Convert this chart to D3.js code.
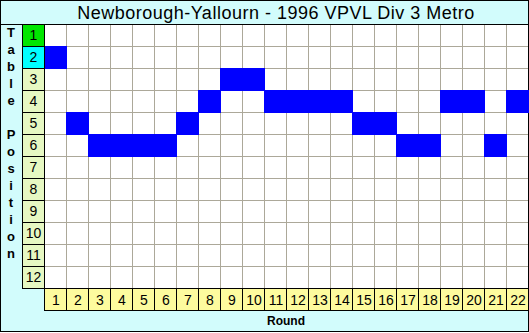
<!DOCTYPE html>
<html>
<head>
<meta charset="utf-8">
<script src="https://cdn.jsdelivr.net/npm/d3@7"></script>
<style>
  body { margin: 0; background: #fff; }
  svg { display: block; }
</style>
</head>
<body>
<svg id="chart"></svg>
<script>
const title = "Newborough-Yallourn - 1996 VPVL Div 3 Metro"
const rounds = ["1","2","3","4","5","6","7","8","9","10","11","12","13","14","15","16","17","18","19","20","21","22"]
const tablePositions = ["1","2","3","4","5","6","7","8","9","10","11","12"]
const positions = [2,5,6,6,6,6,5,4,3,3,4,4,4,4,5,5,6,6,4,4,6,4]
const yTitle = "Table Position"
const xTitle = "Round"

const width = 529
const height = 333

const svg = d3.select("#chart")
    .attr("width", width)
    .attr("height", height)

// background + frame
svg.append("rect")
    .attr("x", 0.5).attr("y", 0.5)
    .attr("width", 528).attr("height", 331)
    .attr("fill", "#d2fcfc")
    .attr("stroke", "#000")

svg.append("text")
    .attr("x", 276).attr("y", 19)
    .attr("text-anchor", "middle")
    .attr("font-family", "Liberation Sans, Arial, sans-serif")
    .attr("font-size", 18)
    .attr("letter-spacing", 0.5)
    .text(title)

svg.append("line")
    .attr("x1", 0).attr("x2", 529)
    .attr("y1", 24.5).attr("y2", 24.5)
    .attr("stroke", "#000")

const x = d3.scaleBand().domain(rounds).range([44, 528])
const y = d3.scaleBand().domain(tablePositions).range([24, 288])

// plot area
svg.append("rect")
    .attr("x", 44).attr("y", 25)
    .attr("width", 484).attr("height", 263)
    .attr("fill", "#fff")

const grid = svg.append("g")
    .attr("stroke", "#aca899")
    .attr("stroke-width", 1)

grid.selectAll("line.v")
    .data(rounds.slice(1))
    .enter()
    .append("line")
    .attr("x1", d => x(d) + 0.5)
    .attr("x2", d => x(d) + 0.5)
    .attr("y1", 25).attr("y2", 288)

grid.selectAll("line.h")
    .data(tablePositions.slice(1))
    .enter()
    .append("line")
    .attr("y1", d => y(d) + 0.5)
    .attr("y2", d => y(d) + 0.5)
    .attr("x1", 44).attr("x2", 528)

// position cells
svg.append("g")
    .selectAll("rect")
    .data(positions)
    .enter()
    .append("rect")
    .attr("x", (d, i) => x(rounds[i]))
    .attr("y", d => y(String(d)))
    .attr("width", x.bandwidth() + 1)
    .attr("height", y.bandwidth() + 1)
    .attr("fill", "#0000ff")

// row labels
const rowColor = d => d === "1" ? "#00e600" : d === "2" ? "#00ffff" : "#e6f8c2"

const rowLab = svg.append("g")
rowLab.selectAll("rect")
    .data(tablePositions)
    .enter()
    .append("rect")
    .attr("x", 22.5)
    .attr("y", d => y(d) + 0.5)
    .attr("width", 22)
    .attr("height", y.bandwidth())
    .attr("fill", rowColor)
    .attr("stroke", "#000")
rowLab.selectAll("text")
    .data(tablePositions)
    .enter()
    .append("text")
    .attr("x", 33.5)
    .attr("y", d => y(d) + y.bandwidth() / 2 + 5)
    .attr("text-anchor", "middle")
    .attr("font-family", "Liberation Sans, Arial, sans-serif")
    .attr("font-size", 14)
    .text(d => d)

// column labels
const colLab = svg.append("g")
colLab.selectAll("rect")
    .data(rounds)
    .enter()
    .append("rect")
    .attr("x", d => x(d) + 0.5)
    .attr("y", 288.5)
    .attr("width", x.bandwidth())
    .attr("height", 22)
    .attr("fill", "#fdfb9e")
    .attr("stroke", "#000")
colLab.selectAll("text")
    .data(rounds)
    .enter()
    .append("text")
    .attr("x", d => x(d) + x.bandwidth() / 2 + 1)
    .attr("y", 305)
    .attr("text-anchor", "middle")
    .attr("font-family", "Liberation Sans, Arial, sans-serif")
    .attr("font-size", 14)
    .text(d => d)

// axis titles
svg.append("text")
    .attr("x", 286).attr("y", 325)
    .attr("text-anchor", "middle")
    .attr("font-family", "Liberation Sans, Arial, sans-serif")
    .attr("font-size", 12)
    .attr("font-weight", "bold")
    .text(xTitle)

svg.append("g")
    .selectAll("text")
    .data(yTitle.split(""))
    .enter()
    .append("text")
    .attr("x", 11)
    .attr("y", (d, i) => 37 + i * 17)
    .attr("text-anchor", "middle")
    .attr("font-family", "Liberation Sans, Arial, sans-serif")
    .attr("font-size", 13)
    .attr("font-weight", "bold")
    .text(d => d)
</script>
</body>
</html>
